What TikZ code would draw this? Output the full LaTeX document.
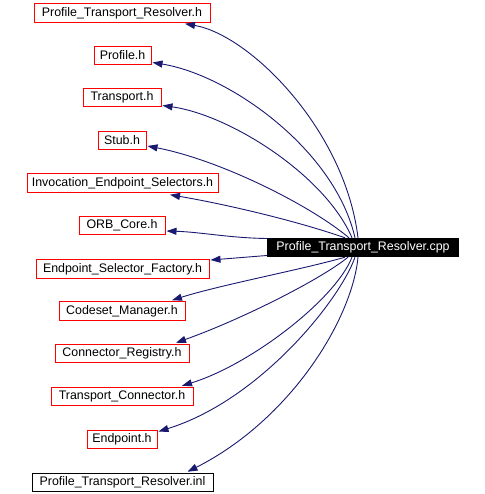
\documentclass[tikz,border=0pt]{standalone}
\usepackage{fontspec}
\setmainfont{Liberation Sans}
\usetikzlibrary{arrows.meta,calc}
\definecolor{edgeblue}{HTML}{191970}
\begin{document}
\begin{tikzpicture}[x=1pt,y=-1pt,
  hbox/.style={draw=red,line width=1pt,inner sep=0pt,minimum height=18.5pt,font=\fontsize{12.4pt}{14pt}\selectfont},
  ibox/.style={hbox,draw=black},
  cppbox/.style={fill=black,text=white,inner sep=0pt,minimum width=192pt,minimum height=19pt,font=\fontsize{12.4pt}{14pt}\selectfont},
  dep/.style={draw=edgeblue,line width=0.9pt,-{Triangle[length=10pt,width=7pt]},fill=none}]
\useasboundingbox (0,0) rectangle (484,494);
\node[hbox,minimum width=176pt] (n1) at (122,13) {Profile\_Transport\_Resolver.h};
\node[hbox,minimum width=57pt] (n2) at (122.5,55.5) {Profile.h};
\node[hbox,minimum width=78pt] (n3) at (122,97.5) {Transport.h};
\node[hbox,minimum width=48pt] (n4) at (122,140.5) {Stub.h};
\node[hbox,minimum width=191pt] (n5) at (122.5,183) {Invocation\_Endpoint\_Selectors.h};
\node[hbox,minimum width=86pt] (n6) at (122,225.5) {ORB\_Core.h};
\node[hbox,minimum width=173pt] (n7) at (122.5,269) {Endpoint\_Selector\_Factory.h};
\node[hbox,minimum width=126pt] (n8) at (122,311) {Codeset\_Manager.h};
\node[hbox,minimum width=134pt] (n9) at (122,353.5) {Connector\_Registry.h};
\node[hbox,minimum width=142pt] (n10) at (122,396.5) {Transport\_Connector.h};
\node[hbox,minimum width=70pt] (n11) at (122,439.5) {Endpoint.h};
\node[ibox,minimum width=181pt] (n12) at (122.5,482.5) {Profile\_Transport\_Resolver.inl};
\node[cppbox] (cpp) at (363,247.5) {Profile\_Transport\_Resolver.cpp};
\draw[dep] ($(cpp.north)+(-5,0)$) .. controls (345,130) and (250,35) .. ($(n1.south)+(63,1)$);
\draw[dep] ($(cpp.north)+(-8,0)$) .. controls (335,150) and (230,75) .. ($(n2.east)+(1,7)$);
\draw[dep] ($(cpp.north)+(-11,0)$) .. controls (325,175) and (230,115) .. ($(n3.east)+(1,8)$);
\draw[dep] ($(cpp.north)+(-14,0)$) .. controls (310,205) and (220,160) .. ($(n4.east)+(1,5.5)$);
\draw[dep] ($(cpp.north)+(-18,0)$) .. controls (300,222) and (230,205) .. ($(n5.south)+(47.5,2)$);
\draw[dep] ($(cpp.west)+(0,-9)$) .. controls (230,238) and (200,232) .. ($(n6.east)+(1,5.5)$);
\draw[dep] ($(cpp.west)+(0,8)$) -- ($(n7.east)+(1,-9)$);
\draw[dep] ($(cpp.south)+(-18,0)$) .. controls (300,270) and (220,285) .. ($(n8.north)+(50,-1)$);
\draw[dep] ($(cpp.south)+(-15,0)$) .. controls (320,280) and (240,320) .. ($(n9.north)+(54,-1)$);
\draw[dep] ($(cpp.south)+(-11,0)$) .. controls (335,300) and (250,365) .. ($(n10.north)+(60,-1)$);
\draw[dep] ($(cpp.south)+(-8,0)$) .. controls (340,300) and (260,400) .. ($(n11.east)+(1,-8)$);
\draw[dep] ($(cpp.south)+(-5,0)$) .. controls (352,320) and (290,420) .. ($(n12.north)+(65,-1)$);
\end{tikzpicture}
\end{document}
